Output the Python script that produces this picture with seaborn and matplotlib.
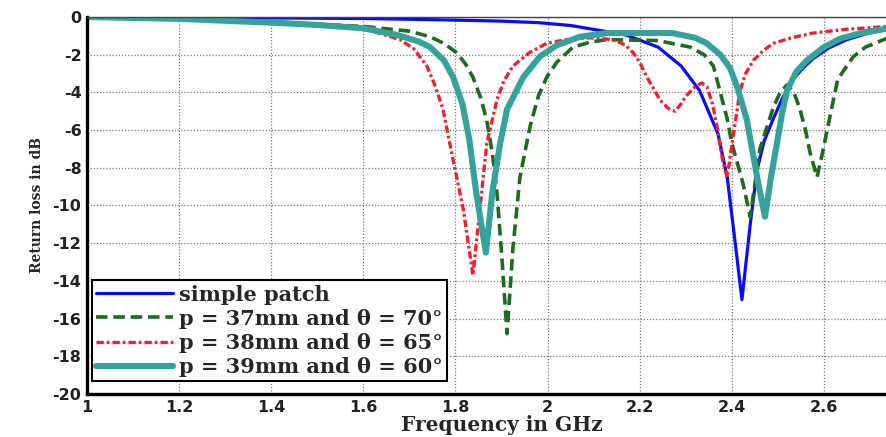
import matplotlib
matplotlib.use("Agg")
import matplotlib.pyplot as plt
import seaborn as sns
import pandas as pd

# Simulated return loss (S11) of the antenna variants, frequency in GHz, level in dB
freq_simple = [1.0, 1.2, 1.4, 1.6, 1.77, 1.9, 1.98, 2.05, 2.11, 2.17, 2.24, 2.29, 2.33,
               2.37, 2.39, 2.405, 2.422, 2.44, 2.455, 2.47, 2.49, 2.51, 2.533, 2.555,
               2.577, 2.61, 2.65, 2.69, 2.74]
db_simple = [0.0, -0.02, -0.05, -0.08, -0.15, -0.22, -0.3, -0.45, -0.7, -0.95, -1.6, -2.6,
             -3.9, -6.2, -8.5, -11.5, -15.0, -11.0, -8.1, -6.6, -5.4, -4.3, -3.3, -2.7,
             -2.2, -1.65, -1.2, -0.9, -0.65]

freq_p37 = [1.0, 1.2, 1.4, 1.6, 1.7, 1.745, 1.775, 1.803, 1.822, 1.838, 1.855, 1.868, 1.88,
            1.89, 1.9, 1.912, 1.925, 1.94, 1.962, 1.98, 1.998, 2.02, 2.055, 2.09, 2.128,
            2.24, 2.31, 2.34, 2.36, 2.375, 2.39, 2.40, 2.424, 2.44, 2.461, 2.49, 2.505,
            2.52, 2.535, 2.548, 2.56, 2.57, 2.585, 2.597, 2.607, 2.63, 2.664, 2.69, 2.74]
db_p37 = [0.0, -0.08, -0.25, -0.5, -0.75, -1.05, -1.4, -1.9, -2.5, -3.2, -4.3, -5.5, -7.2,
          -9.3, -12.5, -16.8, -12.2, -8.5, -5.8, -4.2, -3.2, -2.4, -1.6, -1.35, -1.2,
          -1.25, -1.6, -2.0, -2.6, -4.0, -5.4, -6.7, -8.8, -10.6, -7.0, -4.8, -4.0,
          -3.6, -4.0, -4.9, -6.0, -7.2, -8.5, -7.2, -6.0, -3.3, -2.1, -1.6, -1.1]

freq_p38 = [1.0, 1.2, 1.4, 1.6, 1.68, 1.71, 1.738, 1.755, 1.773, 1.795, 1.817, 1.838, 1.853,
            1.868, 1.89, 1.905, 1.925, 1.96, 1.998, 2.04, 2.092, 2.142, 2.17, 2.186, 2.2,
            2.216, 2.244, 2.262, 2.277, 2.29, 2.30, 2.32, 2.335, 2.346, 2.358, 2.368, 2.38,
            2.39, 2.403, 2.418, 2.43, 2.447, 2.47, 2.49, 2.53, 2.577, 2.65, 2.74]
db_p38 = [0.0, -0.1, -0.3, -0.6, -1.2, -1.7, -2.6, -3.6, -4.9, -7.6, -10.2, -13.7, -10.2,
          -6.7, -4.4, -3.4, -2.6, -1.9, -1.4, -1.2, -1.1, -1.2, -1.5, -1.9, -2.4,
          -3.2, -4.4, -4.85, -5.0, -4.6, -4.2, -3.7, -3.5, -3.7, -4.6, -5.8, -7.6,
          -8.5, -6.3, -3.9, -3.0, -2.3, -1.75, -1.4, -1.1, -0.85, -0.65, -0.5]

freq_p39 = [1.0, 1.2, 1.4, 1.5, 1.6, 1.673, 1.72, 1.745, 1.775, 1.795, 1.815, 1.83, 1.845,
            1.866, 1.88, 1.897, 1.912, 1.947, 1.983, 2.02, 2.07, 2.13, 2.27, 2.32, 2.346,
            2.375, 2.396, 2.413, 2.433, 2.455, 2.472, 2.485, 2.498, 2.51, 2.52, 2.54,
            2.563, 2.6, 2.635, 2.68, 2.74]
db_p39 = [0.0, -0.1, -0.3, -0.42, -0.6, -0.95, -1.3, -1.6, -2.3, -3.2, -4.6, -6.5, -9.3,
          -12.5, -9.3, -6.7, -4.9, -3.2, -2.1, -1.5, -1.05, -0.85, -0.85, -1.1, -1.4,
          -2.0, -2.7, -3.8, -5.5, -8.5, -10.6, -8.5, -6.7, -5.0, -3.9, -2.9,
          -2.3, -1.6, -1.15, -0.85, -0.6]

labels = ["simple patch",
          "p = 37mm and θ = 70°",
          "p = 38mm and θ = 65°",
          "p = 39mm and θ = 60°"]

x_ticks = [1, 1.2, 1.4, 1.6, 1.8, 2, 2.2, 2.4, 2.6]
x_tick_labels = ["1", "1.2", "1.4", "1.6", "1.8", "2", "2.2", "2.4", "2.6"]
y_ticks = [0, -2, -4, -6, -8, -10, -12, -14, -16, -18, -20]
y_tick_labels = ["0", "-2", "-4", "-6", "-8", "-10", "-12", "-14", "-16", "-18", "-20"]

sns.set_style("white")

fig = plt.figure(figsize=(8.86, 4.37), dpi=100)
ax = fig.add_axes([0.0982, 0.0984, 0.9357, 0.8627])

series = [
    (freq_simple, db_simple, dict(color="#0a0aff", linewidth=2.3, linestyle="-")),
    (freq_p37, db_p37, dict(color="#1d6b1d", linewidth=2.6, linestyle=(0, (3.2, 1.6)))),
    (freq_p38, db_p38, dict(color="#f0202a", linewidth=2.4, linestyle=(0, (2.2, 0.9, 0.8, 0.9)))),
    (freq_p39, db_p39, dict(color="#35a39b", linewidth=4.4, linestyle="-")),
]

for (fx, fy, style), name in zip(series, labels):
    df = pd.DataFrame({"Frequency": fx, "Return loss": fy})
    sns.lineplot(data=df, x="Frequency", y="Return loss", ax=ax, label=name,
                 sort=False, estimator=None, **style)

ax.set_xlim(1, 2.8)
ax.set_ylim(-20, 0)
ax.set_xticks(x_ticks)
ax.set_xticklabels(x_tick_labels)
ax.set_yticks(y_ticks)
ax.set_yticklabels(y_tick_labels)

ax.grid(True, linestyle=(0, (1, 1.5)), color="#7a7a7a", linewidth=0.9)
ax.tick_params(direction="in", length=4, width=1.2, pad=4)
for lbl in ax.get_xticklabels() + ax.get_yticklabels():
    lbl.set_fontfamily("DejaVu Sans")
    lbl.set_fontweight("bold")
    lbl.set_fontsize(11.5)
    lbl.set_color("#222222")

for side in ("left", "bottom"):
    ax.spines[side].set_linewidth(2.4)
    ax.spines[side].set_color("black")
ax.spines["top"].set_linewidth(1.0)
ax.spines["top"].set_color("#444444")
ax.spines["right"].set_visible(False)

ax.set_xlabel("Frequency in GHz", fontfamily="DejaVu Serif", fontweight="bold",
              fontsize=14.5, labelpad=0)
ax.set_ylabel("Return loss in dB", fontfamily="DejaVu Serif", fontweight="bold",
              fontsize=10, labelpad=6)

leg = ax.legend(loc="lower left", bbox_to_anchor=(0.006, 0.034), frameon=True,
                fancybox=False, handlelength=3.7, handletextpad=0.3,
                borderpad=0.2, labelspacing=0.2, borderaxespad=0.0,
                prop={"family": "DejaVu Serif", "weight": "bold", "size": 15})
leg.get_frame().set_edgecolor("black")
leg.get_frame().set_linewidth(1.5)
leg.get_frame().set_alpha(1.0)

fig.savefig("out.png", dpi=100)
